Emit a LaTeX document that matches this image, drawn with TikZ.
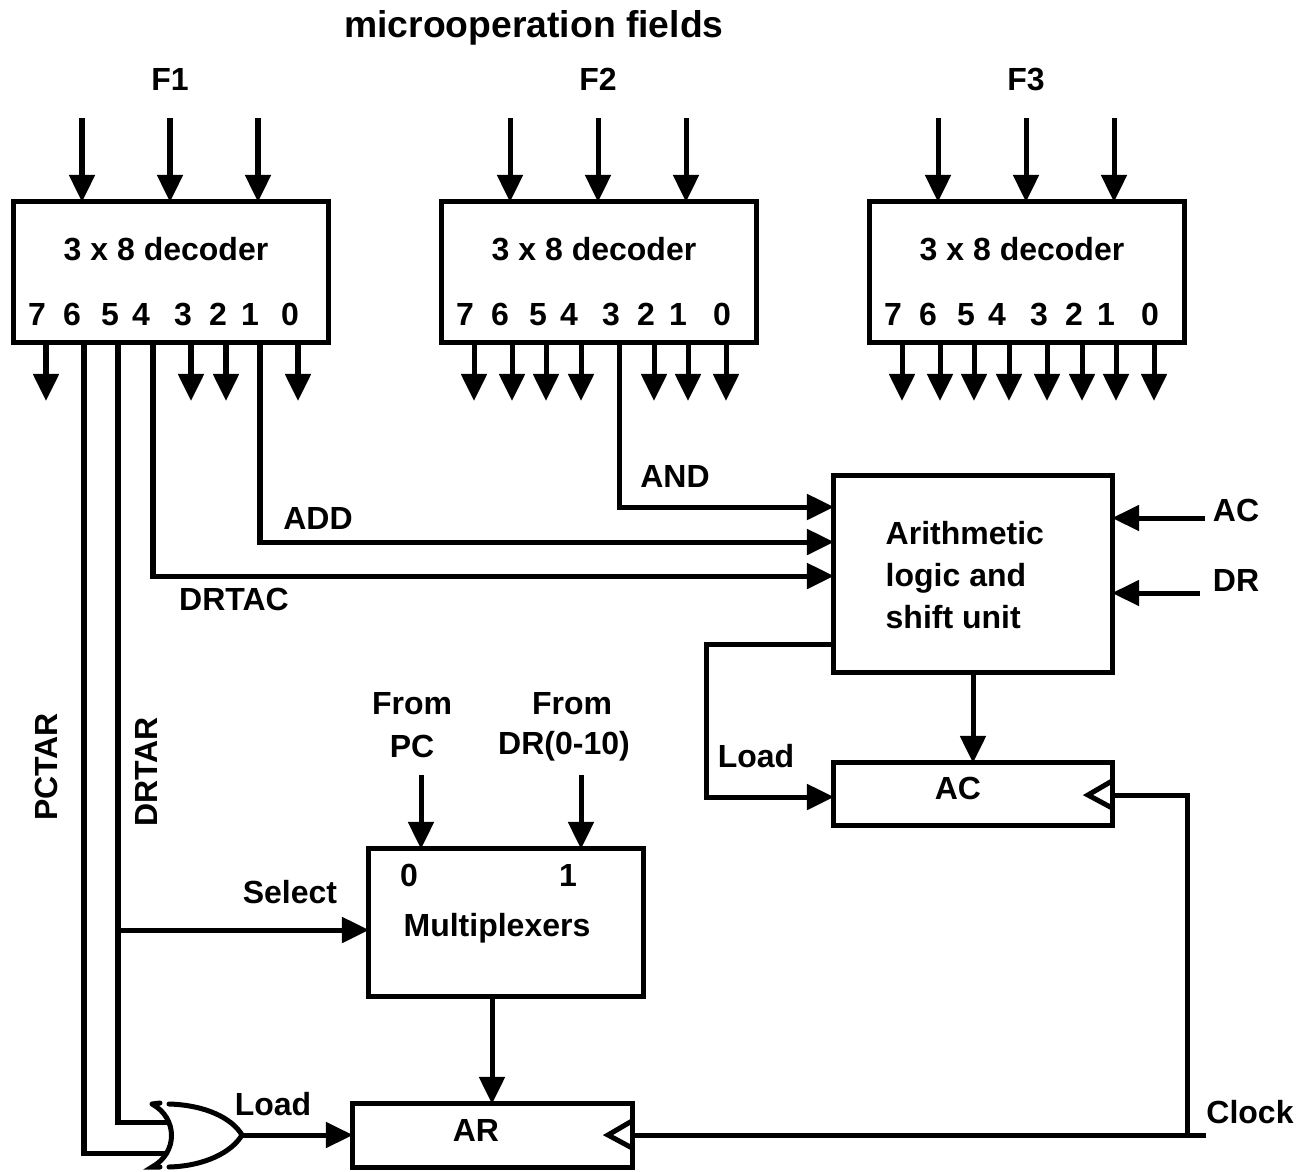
\documentclass[tikz,border=0pt]{standalone}
\usepackage{fontspec}
\setmainfont{Liberation Sans}
\usetikzlibrary{arrows.meta, positioning}
\tikzset{
  lbl/.style={font=\fontsize{9.1}{12}\selectfont\bfseries, inner sep=0pt},
  titlelbl/.style={font=\fontsize{10.6}{12}\selectfont\bfseries, inner sep=0pt},
  blockbox/.style={draw, line width=0.05cm, inner sep=0pt, outer sep=0pt},
  wire/.style={line width=0.05cm, line join=miter},
  arw/.style={wire, -{Triangle[length=0.27cm,width=0.25cm]}},
}

\begin{document}
\begin{tikzpicture}[x=0.01cm, y=-0.01cm]
  \useasboundingbox (0,0) rectangle (1299,1172);
  \node[titlelbl] (title) at (534,28) {microoperation fields};
  % the three decoders
  \foreach \d/\dx/\z in {1/0/0, 2/428/4, 3/856/4}{
    \node[blockbox, minimum width=3.14cm, minimum height=1.40cm] (dec\d) at (171+\dx,272) {};
    \node[lbl] (dec\d t) at (166+\dx,249) {3 x 8 decoder};
    \node[lbl, anchor=base] (field\d) at (170+\dx,90) {F\d};
    \foreach \i/\x in {a/82, b/170, c/258}{
      \coordinate (in\d\i) at (\x+\dx,118);
      \draw[arw] (in\d\i) -- (in\d\i |- dec\d.north);}
    \foreach \l/\x/\t in {7/46/37, 6/84/72, 5/118/110, 4/153/141, 3/191/183, 2/226/218, 1/260/250, 0/298/290+\z}{
      \node[lbl, anchor=base] (dig\d-\l) at (\t+\dx,325) {\l};
      \coordinate (d\d-\l) at (\x+\dx,342);
      \coordinate (e\d-\l) at (\x+\dx,401);}
  }
  % outputs which stop short
  \foreach \l in {7,3,2,0}{
    \draw[arw] (d1-\l) -- (e1-\l);}
  \foreach \l in {7,6,5,4,2,1,0}{
    \draw[arw] (d2-\l) -- (e2-\l);}
  \foreach \l in {7,6,5,4,3,2,1,0}{
    \draw[arw] (d3-\l) -- (e3-\l);}

  % ALU and AC
  \node[blockbox, minimum width=2.78cm, minimum height=1.96cm] (alu) at (973,574) {};
  \node[lbl, anchor=west, align=left] (alutxt) at (885,575) {Arithmetic\\logic and\\shift unit};
  \node[blockbox, minimum width=2.78cm, minimum height=0.62cm] (acreg) at (973,794) {};
  \node[lbl] (actxt) at (958,788) {AC};
  \coordinate (aluA) at (834,507);
  \coordinate (aluB) at (834,542);
  \coordinate (aluC) at (834,576);
  \coordinate (aluL) at (834,644);
  \coordinate (acL) at (834,797);
  \coordinate (acin) at (1205,518);
  \coordinate (drin) at (1200,593);
  \draw[arw] (d2-3) |- (aluA);
  \draw[arw] (d1-1) |- (aluB);
  \draw[arw] (d1-4) |- (aluC);
  \draw[arw] (acin) -- (acin -| alu.east);
  \draw[arw] (drin) -- (drin -| alu.east);
  \draw[arw] (alu.south) -- (acreg.north);
  \draw[arw] (aluL) -- ++(-128,0) |- (acL);
  \node[lbl] (andlbl) at (675,476) {AND};
  \node[lbl] (addlbl) at (318,518) {ADD};
  \node[lbl] (dtalbl) at (234,599) {DRTAC};
  \node[lbl] (aclbl) at (1236,510) {AC};
  \node[lbl] (drlbl) at (1236,580) {DR};
  \node[lbl] (loadA) at (756,756) {Load};

  % multiplexers and AR
  \node[blockbox, minimum width=2.74cm, minimum height=1.47cm] (mux) at (506,922.5) {};
  \node[lbl] (mux0) at (409,875) {0};
  \node[lbl] (mux1) at (568,875) {1};
  \node[lbl] (muxtxt) at (497,928) {Multiplexers};
  \node[blockbox, minimum width=2.79cm, minimum height=0.63cm] (arreg) at (492.5,1135.5) {};
  \node[lbl] (artxt) at (476,1130) {AR};
  \node[lbl] (pc1) at (412,704) {From};
  \node[lbl] (pc2) at (412,746) {PC};
  \node[lbl] (dr1) at (572,704) {From};
  \node[lbl] (dr2) at (564,746) {DR(0-10)};
  \coordinate (pcin) at (421,775);
  \coordinate (drsrc) at (581,775);
  \coordinate (muxsel) at (369,930);
  \coordinate (muxout) at (492,996);
  \draw[arw] (pcin) -- (pcin |- mux.north);
  \draw[arw] (drsrc) -- (drsrc |- mux.north);
  \draw[arw] (muxsel -| d1-5) -- (muxsel);
  \draw[arw] (muxout) -- (muxout |- arreg.north);
  \node[lbl] (sellbl) at (290,892) {Select};
  \node[lbl, rotate=90] (pctar) at (46,767) {PCTAR};
  \node[lbl, rotate=90] (drtar) at (146,772) {DRTAR};

  % OR gate
  \coordinate (orA) at (170,1122);
  \coordinate (orB) at (168,1153);
  \coordinate (orout) at (242,1135);
  \draw[wire, line cap=round] (152,1104) -- (160,1103)
    (152,1104) .. controls (178,1118) and (178,1153) .. (152,1167) -- (160,1167)
    (169,1104) .. controls (205,1105) and (232,1118) .. (orout)
    .. controls (232,1152) and (205,1166) .. (169,1167);
  \draw[wire] (d1-5) |- (orA);
  \draw[wire] (d1-6) |- (orB);
  \draw[arw] (orout) -- (orout -| arreg.west);
  \node[lbl] (loadB) at (273,1104) {Load};

  % clock
  \coordinate (clkend) at (1206,1135);
  \coordinate (clkac) at (1112,795);
  \coordinate (clkar) at (632,1135);
  \draw[wire] (1112,781) -- (1088,795) -- (1114,809);
  \draw[wire] (632,1121) -- (608,1135) -- (634,1149);
  \draw[wire] (clkar) -- (clkend);
  \draw[wire] (clkac) -| (1187,1135);
  \node[lbl] (clklbl) at (1250,1112) {Clock};
\end{tikzpicture}
\end{document}
